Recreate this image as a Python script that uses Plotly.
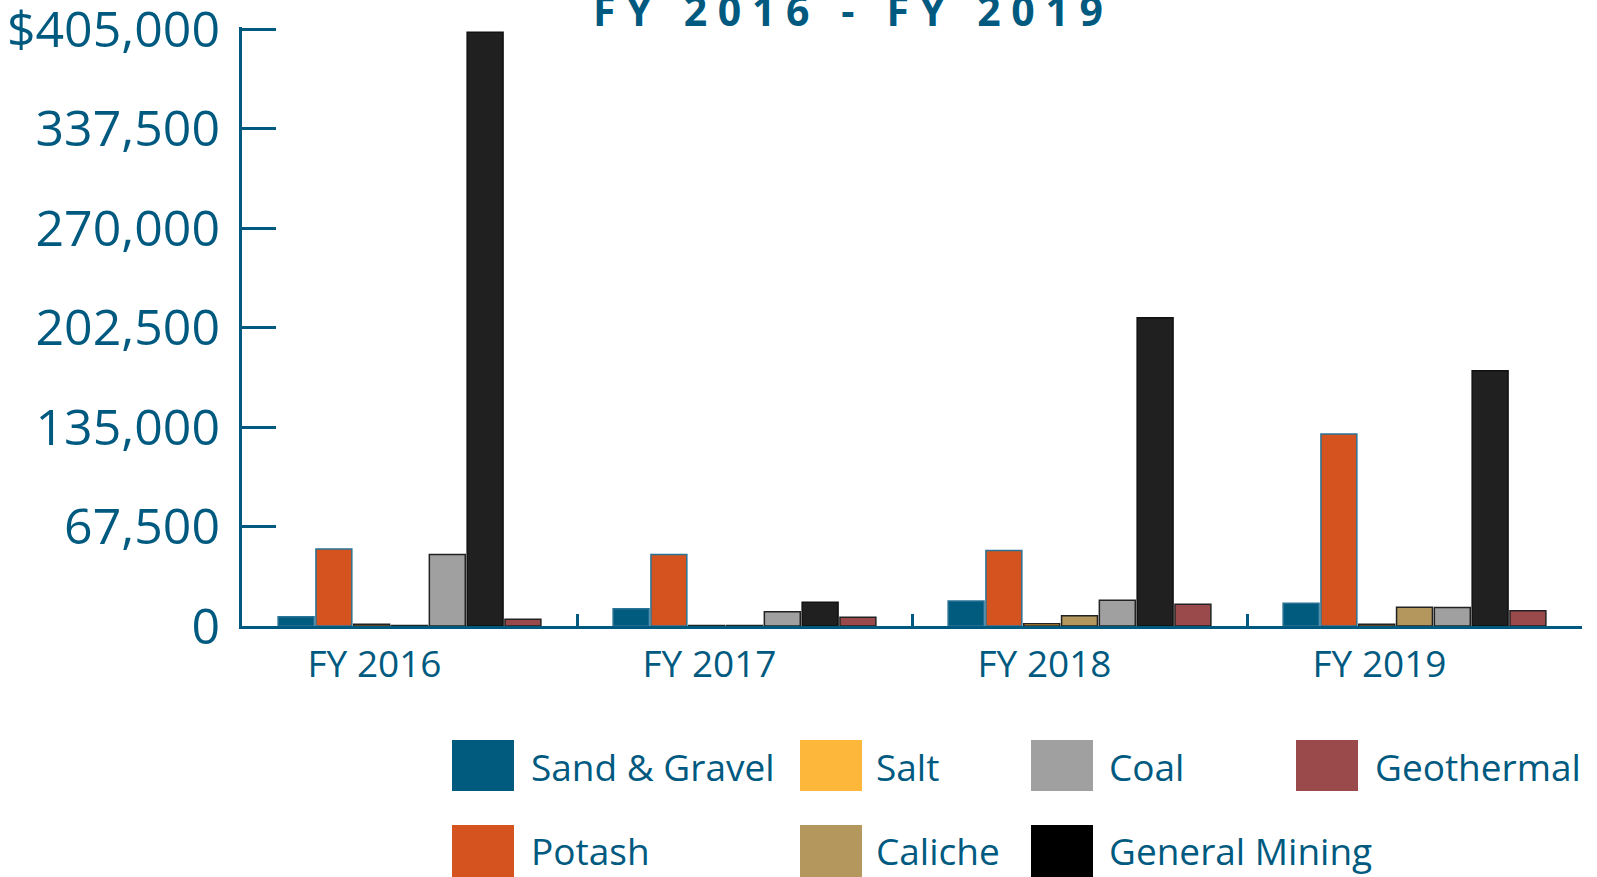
import plotly.graph_objects as go

years = ["FY 2016", "FY 2017", "FY 2018", "FY 2019"]

sand_gravel = [6300, 11700, 17000, 15400]
potash = [52300, 48600, 51300, 130300]
salt = [1200, 300, 1500, 1200]
caliche = [400, 400, 7000, 12700]
coal = [48600, 9700, 17400, 12500]
general_mining = [403000, 16100, 209200, 173200]
geothermal = [4500, 5900, 14700, 10400]

y_ticks = [0, 67500, 135000, 202500, 270000, 337500, 405000]
y_labels = ["0", "67,500", "135,000", "202,500", "270,000", "337,500", "$405,000"]

BLUE = "#005a80"
FONT = "Open Sans"

series = [
    ("Sand & Gravel", sand_gravel, "#005b7f", "#2a7396", "#005b7f"),
    ("Potash", potash, "#d5531e", "#2a7396", "#d5531e"),
    ("Salt", salt, "#fdb73a", "#222222", "#fdb73a"),
    ("Caliche", caliche, "#b3975c", "#222222", "#b3975c"),
    ("Coal", coal, "#a0a0a0", "#222222", "#a0a0a0"),
    ("General Mining", general_mining, "#202020", "#111111", "#000000"),
    ("Geothermal", geothermal, "#9a4a4a", "#222222", "#9a4a4a"),
]

fig = go.Figure()
for name, vals, fill, edge, _ in series:
    fig.add_trace(go.Bar(
        x=years, y=vals, name=name,
        marker=dict(color=fill, line=dict(color=edge, width=1.5)),
        showlegend=False,
    ))

# plot area in pixels
L, R, T, B = 242, 1582, 27, 626
W, H = R - L, B - T

def px(x):
    return (x - L) / W

def py(y):
    return (B - y) / H

# hand-made legend: big swatches like the original
legend_cols = [(452, 529), (800, 874), (1031, 1107), (1296, 1373)]
legend_rows = [(740, 791, 766), (825, 877, 850)]
legend_order = [
    (0, 0, 0), (1, 1, 0),  # Sand & Gravel, Potash
    (2, 0, 1), (3, 1, 1),  # Salt, Caliche
    (4, 0, 2), (5, 1, 2),  # Coal, General Mining
    (6, 0, 3),             # Geothermal
]
for idx, row, col in legend_order:
    name, _, _, _, swatch = series[idx]
    sx, tx = legend_cols[col]
    y0, y1, yc = legend_rows[row]
    fig.add_shape(type="rect", xref="paper", yref="paper",
                  x0=px(sx), x1=px(sx + 62), y0=py(y1), y1=py(y0),
                  fillcolor=swatch, line=dict(width=0))
    fig.add_annotation(xref="paper", yref="paper", x=px(tx), y=py(yc),
                       text=name, showarrow=False, xanchor="left", yanchor="middle",
                       font=dict(family=FONT, size=37, color=BLUE))

title = "\u00a0".join("FY 2016 - FY 2019").replace("\u00a0 \u00a0", "\u00a0\u00a0\u00a0")
fig.add_annotation(xref="paper", yref="paper", x=px(848), y=py(10),
                   text="<b>" + title + "</b>", showarrow=False,
                   xanchor="center", yanchor="middle",
                   font=dict(family=FONT, size=41, color=BLUE))

fig.update_layout(
    width=1597, height=877,
    margin=dict(l=L, r=1597 - R, t=T, b=877 - B),
    paper_bgcolor="white", plot_bgcolor="white",
    barmode="group", bargap=0.21, bargroupgap=0.05,
)
fig.update_xaxes(
    type="category", showgrid=False, automargin=False,
    showline=True, linecolor=BLUE, linewidth=3,
    ticks="inside", tickson="boundaries", ticklen=12, tickwidth=3, tickcolor=BLUE,
    ticklabelshift=-35, ticklabelstandoff=4,
    tickfont=dict(family=FONT, size=37, color=BLUE),
)
fig.update_yaxes(
    range=[0, 406500], showgrid=False, zeroline=False, automargin=False,
    showline=True, linecolor=BLUE, linewidth=3,
    tickvals=y_ticks, ticktext=y_labels, ticklabeloverflow="allow",
    ticks="inside", ticklen=34, tickwidth=3, tickcolor=BLUE,
    ticklabelstandoff=9,
    tickfont=dict(family=FONT, size=50, color=BLUE),
)

fig.write_html("out.html", config={"displayModeBar": False},
               post_script="document.body.style.margin='0px';")
